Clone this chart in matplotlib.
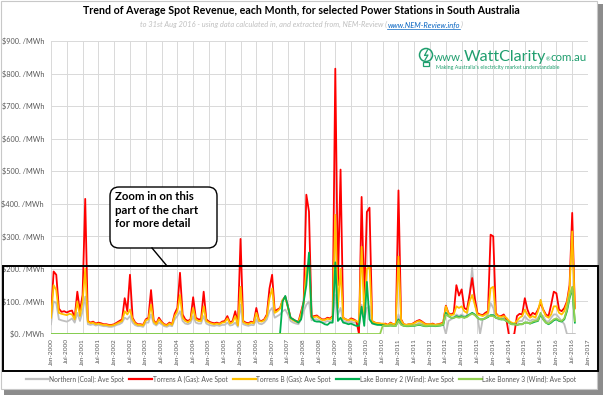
import matplotlib
matplotlib.use('Agg')
import matplotlib.pyplot as plt
import numpy as np
from matplotlib.patches import Rectangle, FancyBboxPatch, Circle
from matplotlib.lines import Line2D

plt.rcParams['font.family'] = ['Lato', 'DejaVu Sans']

# monthly average spot revenue ($/MWh), Jan-2000 .. Aug-2016
northern = [
    30, 100, 95, 45, 42, 40, 38, 42, 48, 35, 65, 40,      # 2000
    70, 115, 30, 28, 30, 26, 28, 26, 24, 24, 22, 22,      # 2001
    24, 28, 30, 35, 50, 45, 55, 35, 27, 24, 24, 22,       # 2002
    35, 35, 60, 32, 26, 35, 30, 24, 22, 26, 24, 45,       # 2003
    55, 70, 40, 32, 30, 34, 55, 35, 32, 32, 55, 32,       # 2004
    28, 26, 25, 27, 25, 28, 28, 35, 26, 28, 35, 22,       # 2005
    90, 30, 27, 25, 28, 27, 45, 32, 30, 35, 45, 70,       # 2006
    80, 50, 55, 60, 70, 75, 60, 40, 35, 32, 30, 45,       # 2007
    70, 90, 100, 42, 45, 45, 40, 36, 36, 40, 38, 42,      # 2008
    120, 60, 80, 40, 38, 36, 38, 35, 35, 30, 90, 45,      # 2009
    80, 85, 32, 30, 30, 28, 28, 28, 27, 30, 28, 28,       # 2010
    60, 35, 28, 26, 27, 27, 28, 30, 35, 32, 28, 27,       # 2011
    28, 30, 27, 28, 30, 30, 0, 40, 45, 50, 60, 55,        # 2012
    60, 55, 55, 120, 203, 95, 55, 0, 45, 50, 60, 95,      # 2013
    80, 50, 45, 45, 50, 40, 38, 32, 30, 35, 40, 40,       # 2014
    55, 45, 40, 45, 42, 50, 60, 55, 40, 38, 50, 60,       # 2015
    60, 50, 40, 30, 0, 0, 0, 0,                           # 2016
]
torrens_a = [
    55, 192, 182, 78, 68, 70, 66, 70, 72, 50, 130, 70,
    120, 415, 40, 35, 38, 32, 35, 33, 30, 30, 28, 28,
    30, 35, 40, 45, 110, 70, 182, 50, 35, 30, 30, 28,
    45, 50, 135, 42, 32, 50, 38, 30, 28, 35, 30, 63,
    80, 188, 60, 45, 40, 45, 113, 50, 45, 45, 130, 45,
    38, 35, 33, 35, 32, 38, 40, 55, 35, 40, 70, 30,
    292, 40, 35, 33, 38, 35, 80, 42, 40, 45, 60, 140,
    182, 70, 75, 80, 104, 115, 85, 50, 45, 40, 38, 68,
    100, 428, 376, 53, 55, 57, 50, 45, 45, 50, 48, 55,
    815, 150, 505, 50, 45, 42, 48, 45, 40, 0, 421, 100,
    375, 388, 40, 35, 33, 32, 30, 32, 28, 35, 30, 32,
    441, 45, 30, 28, 30, 30, 35, 40, 43, 38, 32, 30,
    30, 32, 28, 30, 32, 35, 87, 64, 60, 65, 150, 118,
    137, 80, 75, 120, 172, 110, 64, 60, 58, 65, 70, 305,
    300, 64, 55, 55, 60, 45, -5, -5, 0, 55, 62, 60,
    110, 75, 55, 65, 60, 75, 95, 75, 60, 55, 90, 130,
    125, 75, 70, 80, 100, 150, 372, 80,
]
torrens_b = [
    50, 150, 135, 65, 62, 60, 58, 62, 60, 45, 100, 55,
    100, 200, 38, 33, 35, 30, 32, 30, 28, 28, 26, 26,
    28, 32, 36, 40, 70, 60, 75, 45, 32, 28, 28, 26,
    42, 45, 90, 38, 30, 45, 35, 28, 26, 32, 28, 55,
    70, 120, 50, 40, 36, 42, 80, 45, 40, 40, 85, 40,
    35, 32, 30, 32, 30, 35, 36, 48, 32, 36, 55, 26,
    145, 37, 32, 30, 35, 33, 65, 40, 38, 42, 55, 110,
    140, 65, 70, 78, 105, 112, 82, 48, 42, 38, 36, 60,
    95, 200, 218, 50, 52, 54, 48, 43, 43, 47, 45, 52,
    366, 80, 200, 48, 45, 42, 45, 42, 40, 35, 268, 60,
    200, 206, 38, 35, 33, 32, 32, 30, 28, 33, 30, 32,
    238, 42, 30, 28, 30, 30, 33, 38, 40, 36, 30, 30,
    30, 30, 28, 30, 30, 33, 85, 62, 58, 60, 85, 80,
    85, 70, 65, 100, 120, 90, 60, 58, 55, 60, 65, 140,
    145, 60, 55, 52, 55, 50, 40, 35, 32, 40, 50, 55,
    75, 60, 50, 55, 50, 70, 105, 72, 55, 50, 60, 85,
    85, 65, 60, 70, 95, 140, 315, 78,
]
# wind farms shown as 0 before they started
bonney_2 = [0] * 88 + [
    100, 117, 83, 50, 45, 40, 35, 45,                     # May-Dec 2007
    100, 150, 250, 53, 40, 38, 38, 35, 30, 28, 35, 35,
    220, 40, 50, 35, 33, 30, 32, 28, 25, 25, 84, 25,
    160, 45, 33, 30, 28, 28, 27, 25, 25, 26, 25, 25,
    45, 30, 25, 24, 24, 25, 25, 27, 28, 26, 24, 24,
    25, 25, 24, 25, 26, 28, 65, 55, 50, 50, 55, 52,
    55, 50, 55, 60, 65, 60, 50, 45, 45, 48, 52, 58,
    58, 50, 48, 45, 45, 40, 35, 30, 30, 28, 30, 30,
    35, 35, 32, 35, 38, 40, 60, 45, 35, 30, 35, 42,
    45, 40, 38, 45, 70, 110, 140, 35,
]
bonney_3 = [0] * 126 + [
    25, 25, 25, 26, 25, 25,                               # Jul-Dec 2010
    40, 28, 25, 25, 25, 26, 26, 28, 30, 27, 25, 25,
    26, 26, 25, 26, 27, 29, 60, 55, 50, 50, 52, 50,
    52, 50, 52, 58, 62, 58, 50, 45, 45, 48, 55, 55,
    55, 50, 48, 45, 45, 40, 35, 30, 30, 28, 30, 30,
    35, 35, 32, 38, 40, 42, 65, 45, 35, 32, 38, 45,
    48, 42, 40, 48, 75, 115, 145, 40,
]

names = ['Northern (Coal): Ave Spot', 'Torrens A (Gas): Ave Spot', 'Torrens B (Gas): Ave Spot',
         'Lake Bonney 2 (Wind): Ave Spot', 'Lake Bonney 3 (Wind): Ave Spot']
colors = ['#bfbfbf', '#ff0000', '#ffc000', '#00b050', '#92d050']
series = [northern, torrens_a, torrens_b, bonney_2, bonney_3]

tick_months = np.arange(0, 205, 6)
tick_labels = [('Jan-' if m % 12 == 0 else 'Jul-') + str(2000 + m // 12) for m in tick_months]
y_ticks = np.arange(0, 901, 100)

fig = plt.figure(figsize=(6.04, 3.96), dpi=100)

# background frame with shadow
bg = fig.add_axes([0, 0, 1, 1], zorder=0)
bg.set_xlim(0, 604); bg.set_ylim(396, 0); bg.axis('off')
bg.add_patch(Rectangle((4, 4), 599, 391, fc='#8c8c8c', ec='none'))
bg.add_patch(Rectangle((1, 1), 596, 388, fc='white', ec='#c8c8c8', lw=0.8))

ax = fig.add_axes([51/604, 1-334/396, (588-51)/604, (334-41)/396], zorder=2)
ax.set_facecolor('none')
for s, c, n in zip(series, colors, names):
    ax.plot(np.arange(len(s)), s, color=c, lw=1.3, label=n, solid_joinstyle='round')
ax.set_xlim(0, 204)
ax.set_ylim(0, 900)
ax.set_xticks(tick_months)
ax.set_xticklabels(tick_labels, rotation=90, fontsize=4.6, color='#595959')
ax.set_yticks(y_ticks)
ax.set_yticklabels(['\\$%d. /MWh' % v for v in y_ticks], fontsize=5.3, color='#595959')
ax.tick_params(length=0)
ax.tick_params(axis='x', pad=3)
ax.tick_params(axis='y', pad=5)
ax.grid(color='#d9d9d9', lw=0.7)
ax.set_axisbelow(True)
for sp in ax.spines.values():
    sp.set_visible(False)

handles = [Line2D([], [], color=c, lw=1.6) for c in colors]
fig.legend(handles, names, loc='center', bbox_to_anchor=(301/604, 1-379/396), ncol=5,
           frameon=False, fontsize=4.8, handlelength=3.4, columnspacing=0.8,
           handletextpad=0.1, labelcolor='#595959')

# overlay in pixel coordinates
ov = fig.add_axes([0, 0, 1, 1], zorder=5)
ov.set_xlim(0, 604); ov.set_ylim(396, 0); ov.axis('off')
ov.patch.set_alpha(0)
renderer = fig.canvas.get_renderer()


def run_text(x, y, parts, center=False):
    # parts: (text, kwargs); placed one after another on one baseline
    objs = []
    for txt, kw in parts:
        objs.append(ov.text(0, y, txt, va='baseline', ha='left', **kw))
    widths = [o.get_window_extent(renderer).width for o in objs]
    if center:
        x = x - sum(widths) / 2
    out = []
    for o, w in zip(objs, widths):
        o.set_x(x)
        out.append((x, w))
        x += w
    return out


ov.text(301, 11, 'Trend of Average Spot Revenue, each Month, for selected Power Stations in South Australia',
        ha='center', va='center', fontsize=7.7, weight='bold')
sub = dict(fontsize=5.4, style='italic', color='#bfbfbf')
pos = run_text(301, 27, [('to 31st Aug 2016 - using data calculated in, and extracted from, NEM-Review (', sub),
                         ('www.NEM-Review.info', dict(sub, color='#0563c1')),
                         (')', sub)], center=True)
ov.plot([pos[1][0], pos[1][0] + pos[1][1]], [28.5, 28.5], color='#0563c1', lw=0.5)

# logo
green = '#1f9e6e'
ov.add_patch(Circle((426, 55), 6.5, fill=False, ec=green, lw=1.1))
ov.add_patch(Rectangle((423, 62), 6, 4, fill=False, ec=green, lw=0.9))
ov.plot([427.5, 424.5, 428, 425], [50, 55.5, 55, 60], color=green, lw=0.9)
run_text(434, 61, [('www.', dict(fontsize=8.3, color=green)),
                   ('WattClarity', dict(fontsize=11.5, color=green)),
                   ('\u00ae', dict(fontsize=4, color=green)),
                   ('com.au', dict(fontsize=8.3, color=green))])
ov.text(436, 69.5, "Making Australia's electricity market understandable", fontsize=3.9,
        color=green, va='baseline')

# zoom box and callout
ov.add_patch(Rectangle((3, 266), 595, 105, fill=False, ec='black', lw=1.4))
ov.plot([152, 167], [248, 266], color='black', lw=1)
ov.add_patch(FancyBboxPatch((110, 187), 107, 61, boxstyle='round,pad=0,rounding_size=9',
                            fc='white', ec='black', lw=1))
ov.text(115, 191, 'Zoom in on this\npart of the chart\nfor more detail', ha='left', va='top',
        fontsize=8.2, weight='bold', linespacing=1.3)

fig.savefig('out.png', dpi=100)
